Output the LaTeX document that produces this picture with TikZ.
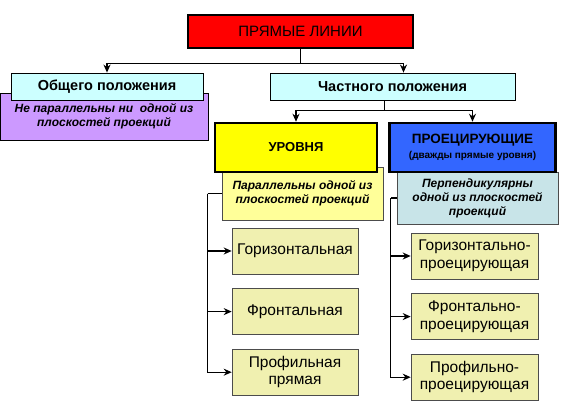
\documentclass[tikz,border=0pt]{standalone}
\usepackage{fontspec}
\setmainfont{Liberation Sans}
\usepackage{tikz}
\usetikzlibrary{positioning, arrows.meta, calc, backgrounds}

\definecolor{rootred}{HTML}{FF0000}
\definecolor{headcyan}{HTML}{CCFFFF}
\definecolor{notepurple}{HTML}{CC99FF}
\definecolor{kindyellow}{HTML}{FFFF00}
\definecolor{kindblue}{HTML}{3366FF}
\definecolor{noteyellow}{HTML}{FFFF99}
\definecolor{notecyan}{HTML}{C8E4E8}
\definecolor{itemfill}{HTML}{F0F0B0}

\begin{document}
\begin{tikzpicture}[
	x=1pt, y=1pt,
	>={Stealth[length=8pt,width=7pt]},
	% Style for Nodes
	object/.style={
		rectangle,
		draw=black,
		inner sep=0pt,
		align=center
	},
	% Specific Node Styles
	root/.style={object, fill=rootred, line width=2.5pt, minimum width=225, minimum height=33, font=\fontsize{15}{17}\selectfont},
	head/.style={object, fill=headcyan, line width=0.8pt, minimum height=27, font=\fontsize{14.5}{16}\selectfont\bfseries},
	kind/.style={object, line width=2.5pt, minimum height=49, font=\bfseries},
	note/.style={object, line width=0.6pt, draw=black!70, font=\fontsize{12}{14}\selectfont\bfseries\itshape},
	item/.style={object, fill=itemfill, line width=0.6pt, draw=black!70, minimum width=126, minimum height=46, font=\fontsize{15.5}{17.5}\selectfont},
	% Arrow Styles
	connection/.style={->, line width=1.4pt},
	branch/.style={line width=1.4pt}
	]
	
	\useasboundingbox (0,0) rectangle (568,-420);
	
	% --- TOP: ROOT AND TWO GROUPS ---
	
	\node[root] (lines) at (300.5,-31.5) {ПРЯМЫЕ ЛИНИИ};
	
	% General position
	\node[head, minimum width=192] (general) at (107,-86.5) {Общего положения};
	
	% Particular position
	\node[head, minimum width=245] (particular) at (392.5,-86.5) {Частного положения};
	
	% Description of general lines (behind its head)
	\begin{scope}[on background layer]
		\node[note, fill=notepurple, draw=black, minimum width=208, minimum height=47] (generalnote) at (104,-116.5) {Не параллельны ни\ \ одной из\\плоскостей проекций};
	\end{scope}
	
	% --- MIDDLE: KINDS OF PARTICULAR LINES ---
	
	\node[kind, fill=kindyellow, minimum width=162, font=\fontsize{13}{15}\selectfont\bfseries] (level) at (296,-147.5) {УРОВНЯ};
	\node[kind, fill=kindblue, minimum width=166, right=10 of level] (projecting) {{\fontsize{13.5}{15}\selectfont ПРОЕЦИРУЮЩИЕ}\\[3pt]{\fontsize{10}{12}\selectfont (дважды прямые уровня)}};
	
	\begin{scope}[on background layer]
		\node[note, fill=noteyellow, minimum width=161, minimum height=53] (levelnote) at (302.5,-193.5) {Параллельны одной из\\плоскостей проекций};
		\node[note, fill=notecyan, minimum width=161, minimum height=52] (projnote) at (477.5,-198) {Перпендикулярны\\одной из плоскостей\\проекций};
	\end{scope}
	
	% --- BOTTOM: LEVEL LINES ---
	
	\node[item] (horiz) at (295,-251) {Горизонтальная};
	\node[item, below=14 of horiz] (front) {Фронтальная};
	\node[item, below=14 of front] (profile) {Профильная\\прямая};
	
	% --- BOTTOM: PROJECTING LINES ---
	
	\node[item, minimum width=127] (horizproj) at (474.5,-256) {Горизонтально-\\проецирующая};
	\node[item, minimum width=127, below=14 of horizproj] (frontproj) {Фронтально-\\проецирующая};
	\node[item, minimum width=127, below=14 of frontproj] (profproj) {Профильно-\\проецирующая};
	
	% --- CONNECTIONS ---
	
	% Root to groups
	\draw[connection] (lines.south) -- ++(0,-14) -| (general.north);
	\draw[connection] (lines.south) -- ++(0,-14) -| ($(particular.north)+(11,0)$);
	
	% Particular group to kinds
	\coordinate (split) at ($(level.north)!0.5!(projecting.north)$);
	\draw[branch] (split |- particular.south) -- ++(0,-10) coordinate (fork);
	\draw[connection] (fork) -| (level.north);
	\draw[connection] (fork) -| (projecting.north);
	
	% Level lines
	\draw[branch] (levelnote.west) -- ++(-14,0) coordinate (levelbus);
	\foreach \n in {horiz, front, profile} {
		\draw[connection] (levelbus) |- (\n.west);
	}
	
	% Projecting lines
	\draw[branch] (projnote.west) -- ++(-6,0) coordinate (projbus);
	\foreach \n in {horizproj, frontproj, profproj} {
		\draw[connection] (projbus) |- (\n.west);
	}
	
\end{tikzpicture}
\end{document}
